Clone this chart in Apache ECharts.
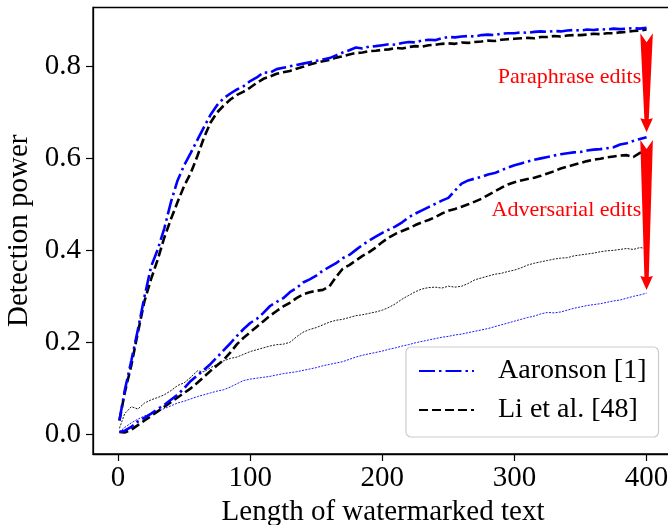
<!DOCTYPE html>
<html><head><meta charset="utf-8">
<script src="https://cdn.jsdelivr.net/npm/echarts@6/dist/echarts.min.js"></script>
<style>html,body{margin:0;padding:0;background:#fff}#c{width:668px;height:525px}</style>
</head><body><div id="c"></div>
<script>
const xs = [1,5,10,15,20,25,30,35,40,45,50,55,60,65,70,75,80,85,90,95,100,105,110,115,120,125,130,135,140,145,150,155,160,165,170,175,180,185,190,195,200,205,210,215,220,225,230,235,240,245,250,255,260,265,270,275,280,285,290,295,300,305,310,315,320,325,330,335,340,345,350,355,360,365,370,375,380,385,390,395,400];

const aaronsonClean = [0.030,0.095,0.160,0.228,0.300,0.365,0.402,0.448,0.505,0.552,0.585,0.612,0.640,0.668,0.695,0.716,0.731,0.741,0.750,0.757,0.768,0.776,0.787,0.786,0.794,0.797,0.800,0.803,0.806,0.809,0.812,0.815,0.818,0.824,0.830,0.835,0.841,0.839,0.843,0.844,0.846,0.848,0.847,0.851,0.853,0.852,0.856,0.858,0.857,0.861,0.864,0.863,0.865,0.866,0.865,0.868,0.869,0.868,0.871,0.872,0.872,0.874,0.873,0.875,0.876,0.875,0.877,0.876,0.878,0.879,0.878,0.880,0.879,0.881,0.880,0.882,0.881,0.882,0.883,0.882,0.884];

const liClean = [0.030,0.090,0.150,0.222,0.290,0.338,0.380,0.428,0.468,0.505,0.540,0.568,0.605,0.645,0.678,0.700,0.715,0.728,0.738,0.745,0.754,0.764,0.773,0.778,0.784,0.787,0.790,0.795,0.799,0.804,0.808,0.811,0.814,0.819,0.822,0.826,0.829,0.830,0.833,0.834,0.836,0.837,0.840,0.839,0.842,0.844,0.843,0.846,0.847,0.849,0.850,0.849,0.852,0.851,0.853,0.854,0.856,0.855,0.858,0.859,0.860,0.861,0.862,0.861,0.864,0.864,0.866,0.865,0.867,0.868,0.868,0.869,0.871,0.870,0.872,0.872,0.874,0.875,0.877,0.878,0.880];

const aaronsonParaphrase = [0.005,0.008,0.016,0.028,0.036,0.045,0.055,0.064,0.075,0.086,0.100,0.116,0.128,0.140,0.153,0.168,0.183,0.198,0.214,0.229,0.242,0.251,0.264,0.279,0.288,0.296,0.309,0.318,0.330,0.337,0.345,0.356,0.364,0.372,0.383,0.390,0.401,0.412,0.421,0.430,0.438,0.445,0.452,0.461,0.472,0.480,0.487,0.494,0.501,0.508,0.514,0.530,0.545,0.552,0.556,0.560,0.565,0.568,0.574,0.580,0.585,0.589,0.593,0.597,0.600,0.603,0.606,0.609,0.611,0.613,0.614,0.617,0.619,0.620,0.622,0.624,0.630,0.633,0.638,0.642,0.646];

const liParaphrase = [0.005,0.004,0.010,0.020,0.030,0.040,0.050,0.060,0.070,0.080,0.090,0.100,0.112,0.125,0.138,0.150,0.162,0.178,0.196,0.210,0.222,0.234,0.246,0.258,0.268,0.278,0.286,0.296,0.304,0.309,0.312,0.314,0.322,0.342,0.360,0.368,0.378,0.388,0.396,0.406,0.418,0.428,0.436,0.442,0.448,0.455,0.461,0.466,0.472,0.480,0.486,0.490,0.495,0.500,0.506,0.512,0.520,0.528,0.536,0.543,0.548,0.552,0.555,0.558,0.562,0.567,0.572,0.578,0.582,0.586,0.590,0.594,0.597,0.599,0.602,0.604,0.606,0.607,0.603,0.612,0.614];

const liAdversarial = [0.013,0.045,0.060,0.055,0.068,0.075,0.080,0.086,0.095,0.106,0.112,0.124,0.138,0.136,0.145,0.152,0.160,0.165,0.168,0.174,0.180,0.184,0.188,0.192,0.195,0.196,0.200,0.212,0.222,0.228,0.232,0.238,0.244,0.248,0.250,0.254,0.258,0.260,0.263,0.266,0.270,0.276,0.284,0.294,0.302,0.310,0.316,0.319,0.320,0.318,0.322,0.320,0.322,0.328,0.336,0.340,0.344,0.348,0.350,0.354,0.357,0.362,0.368,0.372,0.375,0.378,0.381,0.383,0.384,0.388,0.390,0.392,0.394,0.397,0.399,0.400,0.402,0.404,0.402,0.406,0.404];

const aaronsonAdversarial = [0.005,0.015,0.025,0.033,0.040,0.045,0.050,0.056,0.062,0.068,0.072,0.077,0.082,0.086,0.090,0.094,0.097,0.103,0.110,0.117,0.120,0.122,0.124,0.126,0.129,0.132,0.134,0.136,0.139,0.142,0.145,0.149,0.152,0.155,0.158,0.163,0.168,0.172,0.175,0.178,0.181,0.185,0.188,0.192,0.195,0.199,0.202,0.205,0.208,0.211,0.213,0.216,0.218,0.221,0.224,0.227,0.230,0.234,0.238,0.242,0.246,0.250,0.254,0.257,0.262,0.265,0.264,0.266,0.270,0.274,0.277,0.280,0.282,0.284,0.287,0.290,0.292,0.296,0.300,0.303,0.307];

const xTicks = [0, 100, 200, 300, 400];
const yTicks = [0, 0.2, 0.4, 0.6, 0.8];

// annotation arrows (x, y start, y end) and their labels (label x, label y, text)
const arrowX = [400, 400];
const arrowFrom = [0.872, 0.640];
const arrowTo = [0.657, 0.314];
const labelX = [396, 396];
const labelY = [0.777, 0.488];
const labelText = ['Paraphrase edits', 'Adversarial edits'];

const FONT = '"Liberation Serif", "DejaVu Serif", serif';
const pair = ys => xs.map((x, i) => [x, ys[i]]);

const dashDot = [16, 4, 2.5, 4];
const dash = [9, 4];

function lineSeries(name, ys, color, width, type, z) {
  return {
    name, type: 'line', data: pair(ys), showSymbol: false, symbol: 'none',
    lineStyle: { color, width, type }, itemStyle: { color }, z, animation: false
  };
}

const chart = echarts.init(document.getElementById('c'), null, { renderer: 'canvas' });
chart.setOption({
  animation: false,
  grid: { left: 93, top: 7.5, right: -5, bottom: 71, show: true, borderColor: '#000', borderWidth: 1.3,
    backgroundColor: '#fff', containLabel: false, outerBoundsMode: 'none' },
  xAxis: {
    type: 'value', min: -19, max: 420,
    name: 'Length of watermarked text', nameLocation: 'middle', nameGap: 42,
    nameTextStyle: { fontFamily: FONT, fontSize: 29, color: '#000' },
    axisLine: { show: true, onZero: false, lineStyle: { color: '#000', width: 1.3 } },
    axisTick: { show: true, length: 7, lineStyle: { color: '#000', width: 1.2 }, customValues: xTicks },
    axisLabel: { customValues: xTicks, fontFamily: FONT, fontSize: 29, color: '#000', margin: 10 },
    splitLine: { show: false }
  },
  yAxis: {
    type: 'value', min: -0.0428, max: 0.928,
    name: 'Detection power', nameLocation: 'middle', nameGap: 57,
    nameTextStyle: { fontFamily: FONT, fontSize: 29, color: '#000' },
    axisLine: { show: true, onZero: false, lineStyle: { color: '#000', width: 1.3 } },
    axisTick: { show: true, length: 7, lineStyle: { color: '#000', width: 1.2 }, customValues: yTicks },
    axisLabel: { customValues: yTicks, fontFamily: FONT, fontSize: 29, color: '#000', margin: 12,
      formatter: v => v.toFixed(1) },
    splitLine: { show: false }
  },
  legend: {
    data: ['Aaronson [1]', 'Li et al. [48]'],
    orient: 'vertical', left: 406, top: 347,
    itemWidth: 55, itemHeight: 14, itemGap: 9,
    itemStyle: { opacity: 0 },
    backgroundColor: '#fff', borderColor: '#cccccc', borderWidth: 1.2, borderRadius: 5,
    padding: [9, 12, 12, 12],
    textStyle: { fontFamily: FONT, fontSize: 28, color: '#000', lineHeight: 30, padding: [0, 0, 0, 19] }
  },
  series: [
    lineSeries('Aaronson [1]', aaronsonClean, '#0000ff', 2.6, dashDot, 5),
    lineSeries('Li et al. [48]', liClean, '#000000', 2.6, dash, 4),
    lineSeries('Aaronson [1]', aaronsonParaphrase, '#0000ff', 2.6, dashDot, 5),
    lineSeries('Li et al. [48]', liParaphrase, '#000000', 2.6, dash, 4),
    lineSeries('Li et al. [48]', liAdversarial, '#000000', 0.9, [2, 1.3], 3),
    lineSeries('Aaronson [1]', aaronsonAdversarial, '#0000ff', 0.9, [2, 1.3], 3),
    {
      type: 'custom', name: 'annotations', z: 10, clip: false,
      data: arrowX.map((x, i) => [x, arrowFrom[i], arrowTo[i], labelX[i], labelY[i]]),
      renderItem: function (params, api) {
        const top = api.coord([api.value(0), api.value(1)]);
        const tip = api.coord([api.value(0), api.value(2)]);
        const lab = api.coord([api.value(3), api.value(4)]);
        const cx = top[0], t = top[1], b = tip[1];
        return {
          type: 'group',
          children: [
            { type: 'polygon', shape: { points: [
                [cx - 6.3, t], [cx, t + 9], [cx + 6.3, t], [cx + 2.2, b - 13],
                [cx + 6.3, b - 14], [cx, b], [cx - 6.3, b - 14], [cx - 2.2, b - 13]] },
              style: { fill: '#ff0000', stroke: null } },
            { type: 'text', style: { text: labelText[params.dataIndex], x: lab[0], y: lab[1],
                fill: '#ff0000', font: '22px ' + FONT, align: 'right', verticalAlign: 'middle' } }
          ]
        };
      }
    }
  ]
});
</script></body></html>
